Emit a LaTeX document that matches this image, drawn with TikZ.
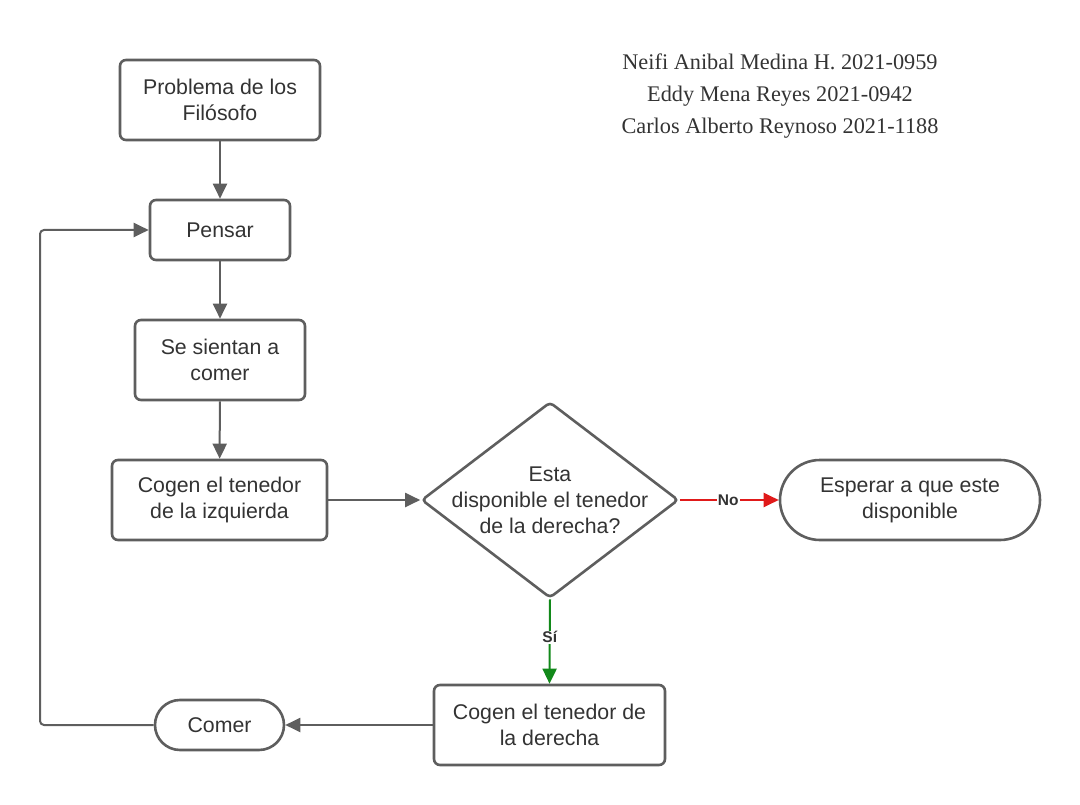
\documentclass[tikz,border=0pt]{standalone}
\usepackage{fontspec}
\setmainfont{Liberation Sans}
\newfontfamily\authfont{Liberation Serif}
\usetikzlibrary{shapes.geometric,arrows.meta}
\definecolor{lin}{HTML}{5E5E5E}
\definecolor{txt}{HTML}{333333}
\definecolor{nored}{HTML}{E01A1A}
\definecolor{sigreen}{HTML}{12891A}
\begin{document}
\begin{tikzpicture}[x=1pt,y=-1pt,
  font=\fontsize{21.3}{26}\selectfont, text=txt,
  box/.style={draw=lin, line width=2.6pt, rounded corners=6pt, align=center, inner sep=0pt, fill=white},
  arr/.style={draw=lin, line width=2pt, -{Triangle[length=15pt,width=14pt]}},
  lbl/.style={font=\fontsize{15.5}{18}\selectfont\bfseries, fill=white, inner sep=1pt, text=txt}
]
\useasboundingbox (0,0) rectangle (1080,805);
\node[box, minimum width=200, minimum height=80] (prob) at (220,100) {Problema de los\\Filósofo};
\node[box, minimum width=140, minimum height=60] (pens) at (220,230) {Pensar};
\node[box, minimum width=170, minimum height=80] (sien) at (220,360) {Se sientan a\\comer};
\node[box, minimum width=215, minimum height=80] (izq) at (219.5,500) {Cogen el tenedor\\de la izquierda};
\node[draw=lin, line width=2.6pt, diamond, rounded corners=4pt, inner sep=0pt, minimum width=257, minimum height=196] (dec) at (550,500) {};
\node[align=center] (dect) at (dec.center) {Esta\\disponible el tenedor\\de la derecha?};
\node[draw=lin, line width=2.6pt, rounded corners=40pt, minimum width=260, minimum height=80, align=center, inner sep=0pt] (esp) at (910,500) {Esperar a que este\\disponible};
\node[box, minimum width=231, minimum height=80] (der) at (549.5,725) {Cogen el tenedor de\\la derecha};
\node[draw=lin, line width=2.6pt, rounded corners=25pt, minimum width=129, minimum height=50, inner sep=0pt] (com) at (219.5,725) {Comer};
\node[font=\authfont\fontsize{22.3}{32}\selectfont, align=center, text=txt] (auth) at (780,96) {Neifi Anibal Medina H. 2021-0959\\Eddy Mena Reyes 2021-0942\\Carlos Alberto Reynoso 2021-1188};
\draw[arr] (prob) -- (pens);
\draw[arr] (pens) -- (sien);
\draw[arr] (sien) -- (izq);
\draw[arr] (izq) -- (dec);
\draw[arr, draw=nored, -{Triangle[length=15pt,width=14pt,fill=nored]}] (dec.east) -- node[lbl, pos=0.49] {No} (esp.west);
\draw[arr, draw=sigreen, -{Triangle[length=15pt,width=14pt,fill=sigreen]}] (dec.south) -- node[lbl, pos=0.45] {Sí} (der.north);
\draw[arr] (der.west) -- (com.east);
\coordinate (lc) at (40,725);
\draw[arr, rounded corners=4pt] (com.west) -- (lc) |- (pens.west);
\end{tikzpicture}
\end{document}
